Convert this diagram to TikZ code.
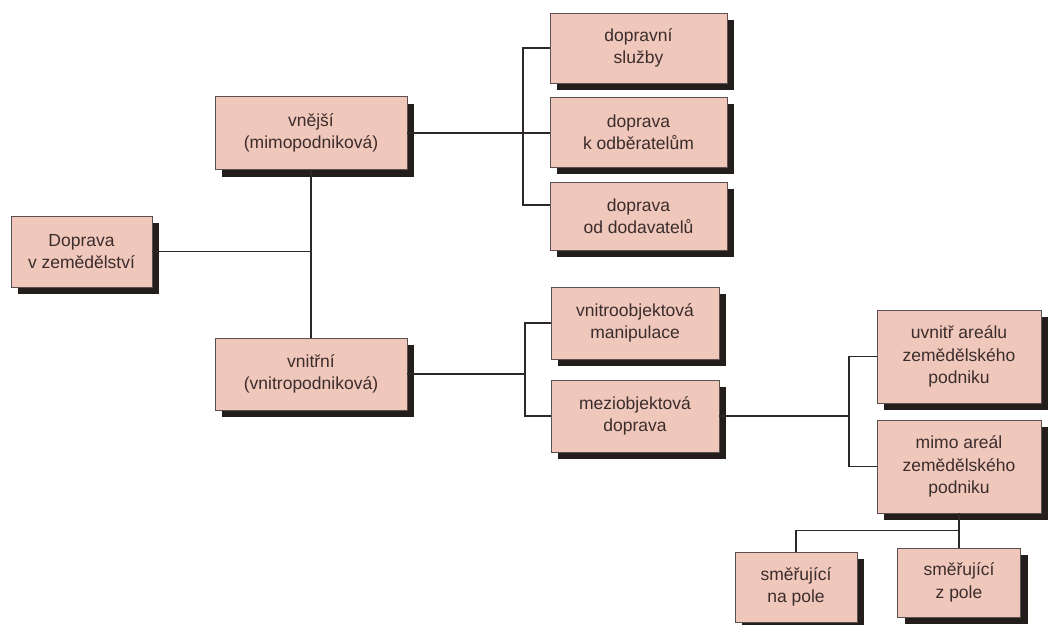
\documentclass[tikz,border=0pt]{standalone}
\usepackage{fontspec}
\setmainfont{Liberation Sans}
\usetikzlibrary{shadows}
\definecolor{boxfill}{RGB}{239,199,187}
\definecolor{boxline}{RGB}{90,80,80}
\definecolor{shadowc}{RGB}{35,30,28}
\definecolor{txtc}{RGB}{60,45,45}
\definecolor{linec}{RGB}{45,40,40}
\tikzset{
  box/.style={draw=boxline, line width=0.7pt, fill=boxfill, align=center,
    text=txtc, font=\fontsize{17.5}{22.5}\selectfont, inner sep=0pt,
    drop shadow={shadow xshift=7pt, shadow yshift=-7pt, fill=shadowc, opacity=1}},
  conn/.style={draw=linec, line width=1.1pt}
}
\begin{document}
\begin{tikzpicture}[x=1pt,y=-1pt]
\useasboundingbox[fill=white] (0,0) rectangle (1049,624);
% level 0
\node[box, minimum width=141pt, minimum height=71pt] (A) at (81.5,251.5) {Doprava\\v zemědělství};
% level 1
\node[box, minimum width=192pt, minimum height=73pt] (B) at (311,133) {vnější\\(mimopodniková)};
\node[box, minimum width=192pt, minimum height=72pt] (C) at (311,374) {vnitřní\\(vnitropodniková)};
% level 2 top
\node[box, minimum width=177pt, minimum height=70pt] (D) at (638.5,48) {dopravní\\služby};
\node[box, minimum width=177pt, minimum height=70pt] (E) at (638.5,132) {doprava\\k odběratelům};
\node[box, minimum width=177pt, minimum height=68pt] (F) at (638.5,216) {doprava\\od dodavatelů};
% level 2 bottom
\node[box, minimum width=168pt, minimum height=72pt] (G) at (635,323) {vnitroobjektová\\manipulace};
\node[box, minimum width=168pt, minimum height=72pt] (H) at (635,416) {meziobjektová\\doprava};
% level 3
\node[box, minimum width=164pt, minimum height=93pt] (I) at (959,356.5) {uvnitř areálu\\zemědělského\\podniku};
\node[box, minimum width=164pt, minimum height=93pt] (J) at (959,466.5) {mimo areál\\zemědělského\\podniku};
% level 4
\node[box, minimum width=122pt, minimum height=70pt] (K) at (796,587) {směřující\\na pole};
\node[box, minimum width=123pt, minimum height=69pt] (L) at (959,582.5) {směřující\\z pole};
% bus coordinates
\coordinate (b1) at (523,0);
\coordinate (b2) at (525,0);
\coordinate (b3) at (849,0);
% connectors
\draw[conn] (B.south) -- (C.north);
\draw[conn] (A.east) -- (A.east -| B.south);
\draw[conn] (B.east) -- (B.east -| E.west);
\draw[conn] (D.west) -- (D.west -| b1) |- ([yshift=11pt]F.west);
\draw[conn] (C.east) -- (C.east -| b2);
\draw[conn] (G.west) -- (G.west -| b2) |- (H.west);
\draw[conn] (H.east) -- (H.east -| b3);
\draw[conn] (I.west) -- (I.west -| b3) |- (J.west);
\draw[conn] (J.south) -- ++(0,17) coordinate (j1);
\draw[conn] (K.north) |- (j1) -- (L.north);
\end{tikzpicture}
\end{document}
